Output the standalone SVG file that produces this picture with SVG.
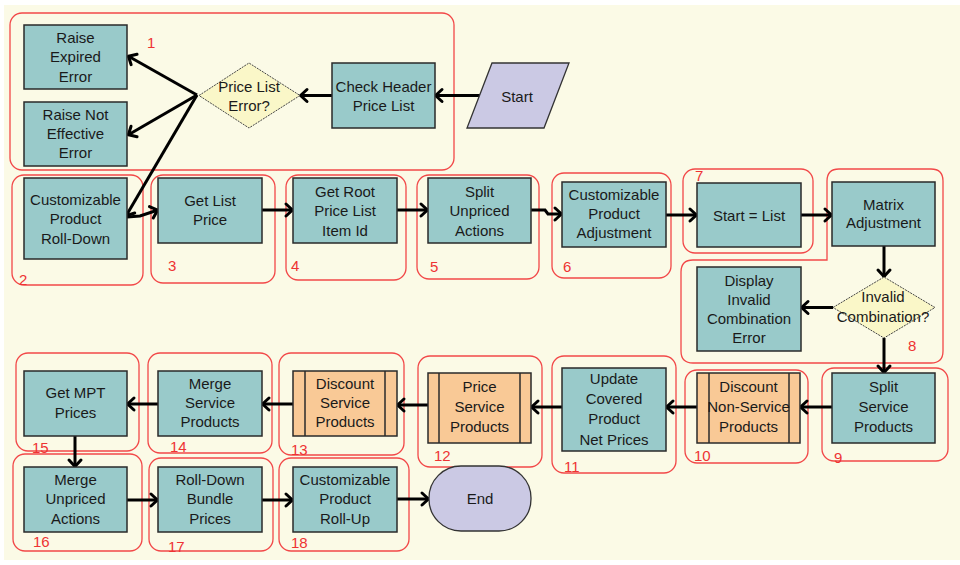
<svg xmlns="http://www.w3.org/2000/svg" width="960" height="565" viewBox="0 0 960 565">
<defs>
<marker id="arr" markerUnits="userSpaceOnUse" markerWidth="20" markerHeight="20" viewBox="-10 -10 20 20" refX="0" refY="0" orient="auto">
<path d="M-7,-6 L-0.5,0 L-7,6" fill="none" stroke="#000" stroke-width="3" stroke-linejoin="round" stroke-linecap="round"/>
</marker>
</defs>
<style>
.bg{fill:#fbfae6}
.grp{fill:none;stroke:#f24848;stroke-width:1.3}
.num{font-family:"Liberation Sans",Arial,sans-serif;font-size:15px;fill:#ee3333}
.task{fill:#99caca;stroke:#2a2a2a;stroke-width:1.5}
.sub{fill:#f9c996;stroke:#2a2a2a;stroke-width:1.5}
.dec{fill:#faf7c8;stroke:#444;stroke-width:1;stroke-dasharray:2,1}
.term{fill:#cbc9e4;stroke:#333;stroke-width:1.3}
.t{font-family:"Liberation Sans",Arial,sans-serif;font-size:15px;fill:#1a1a1a;text-anchor:middle}
.c{fill:none;stroke:#000;stroke-width:3;marker-end:url(#arr)}
</style>
<rect x="4" y="5" width="956" height="555" class="bg"/>

<g id="groups">
<rect class="grp" x="10" y="13" width="444" height="157" rx="12"/>
<rect class="grp" x="12" y="175" width="131" height="110" rx="12"/>
<rect class="grp" x="151" y="175" width="124" height="108" rx="12"/>
<rect class="grp" x="286" y="175" width="120" height="105" rx="12"/>
<rect class="grp" x="417" y="175" width="122" height="104" rx="12"/>
<rect class="grp" x="552" y="173" width="119" height="105" rx="12"/>
<rect class="grp" x="683" y="169" width="130" height="84" rx="12"/>
<path class="grp" d="M839,169 H931 Q943,169 943,181 V351 Q943,363 931,363 H693 Q681,363 681,351 V272 Q681,260 693,260 H827 V181 Q827,169 839,169 Z"/>
<rect class="grp" x="822" y="368" width="126" height="93" rx="12"/>
<rect class="grp" x="685" y="370" width="123" height="93" rx="12"/>
<rect class="grp" x="552" y="356" width="124" height="117" rx="12"/>
<rect class="grp" x="418" y="356" width="124" height="111" rx="12"/>
<rect class="grp" x="279" y="353" width="125" height="102" rx="12"/>
<rect class="grp" x="148" y="353" width="124" height="100" rx="12"/>
<rect class="grp" x="16" y="353" width="123" height="98" rx="12"/>
<rect class="grp" x="13" y="454" width="129" height="97" rx="12"/>
<rect class="grp" x="149" y="458" width="124" height="93" rx="12"/>
<rect class="grp" x="279" y="458" width="130" height="93" rx="12"/>
<text class="num" x="147" y="48">1</text>
<text class="num" x="19" y="285">2</text>
<text class="num" x="168" y="271">3</text>
<text class="num" x="291" y="271">4</text>
<text class="num" x="430" y="272">5</text>
<text class="num" x="563" y="272">6</text>
<text class="num" x="695" y="181">7</text>
<text class="num" x="908" y="351">8</text>
<text class="num" x="834" y="463">9</text>
<text class="num" x="694" y="461">10</text>
<text class="num" x="564" y="472">11</text>
<text class="num" x="434" y="461">12</text>
<text class="num" x="291" y="455">13</text>
<text class="num" x="170" y="452">14</text>
<text class="num" x="32" y="453">15</text>
<text class="num" x="33" y="547">16</text>
<text class="num" x="168" y="552">17</text>
<text class="num" x="291" y="548">18</text>
</g>

<g id="connectors">
<line class="c" x1="480" y1="95.5" x2="435" y2="95.5"/>
<line class="c" x1="332" y1="95.5" x2="300" y2="95.5"/>
<line class="c" x1="197" y1="95" x2="128" y2="56"/>
<line class="c" x1="197" y1="95" x2="128" y2="135"/>
<line class="c" x1="197" y1="95" x2="126" y2="216"/>
<polyline class="c" points="127,217 140,216 158,210"/>
<line class="c" x1="262" y1="210" x2="293" y2="210"/>
<line class="c" x1="397" y1="210" x2="428" y2="210"/>
<polyline class="c" points="531,210 545,210 548,214 562,214"/>
<line class="c" x1="666" y1="215" x2="697" y2="215"/>
<line class="c" x1="801" y1="215" x2="832" y2="215"/>
<line class="c" x1="884" y1="246" x2="884" y2="277"/>
<line class="c" x1="833" y1="307.5" x2="801" y2="307.5"/>
<line class="c" x1="884" y1="338" x2="884" y2="373"/>
<line class="c" x1="832" y1="407" x2="800" y2="407"/>
<line class="c" x1="697" y1="407" x2="666" y2="407"/>
<line class="c" x1="562" y1="407" x2="531" y2="407"/>
<line class="c" x1="428" y1="405" x2="397" y2="405"/>
<line class="c" x1="293" y1="404" x2="262" y2="404"/>
<line class="c" x1="158" y1="404" x2="127" y2="404"/>
<line class="c" x1="75" y1="436" x2="75" y2="467"/>
<line class="c" x1="127" y1="500" x2="158" y2="500"/>
<line class="c" x1="262" y1="500" x2="293" y2="500"/>
<line class="c" x1="397" y1="499" x2="429" y2="499"/>
</g>

<g id="raise-expired-error">
<rect class="task" x="24" y="25" width="103" height="64"/>
<text class="t"><tspan x="75.5" y="43">Raise</tspan><tspan x="75.5" y="62">Expired</tspan><tspan x="75.5" y="82">Error</tspan></text>
</g>
<g id="raise-not-effective-error">
<rect class="task" x="24" y="102" width="103" height="64"/>
<text class="t"><tspan x="75.5" y="120">Raise Not</tspan><tspan x="75.5" y="139">Effective</tspan><tspan x="75.5" y="158">Error</tspan></text>
</g>
<g id="price-list-error">
<polygon class="dec" points="199,95.5 249,63 300,95.5 249,128"/>
<text class="t"><tspan x="249" y="92">Price List</tspan><tspan x="249" y="111">Error?</tspan></text>
</g>
<g id="check-header-price-list">
<rect class="task" x="332" y="63" width="103" height="65"/>
<text class="t"><tspan x="383.5" y="92">Check Header</tspan><tspan x="383.5" y="111">Price List</tspan></text>
</g>
<g id="start">
<polygon class="term" points="492,63 569,63 544,128 467,128"/>
<text class="t" x="517" y="102">Start</text>
</g>
<g id="customizable-product-roll-down">
<rect class="task" x="24" y="178" width="103" height="81"/>
<text class="t"><tspan x="75.5" y="205">Customizable</tspan><tspan x="75.5" y="224">Product</tspan><tspan x="75.5" y="244">Roll-Down</tspan></text>
</g>
<g id="get-list-price">
<rect class="task" x="158" y="178" width="104" height="65"/>
<text class="t"><tspan x="210" y="206">Get List</tspan><tspan x="210" y="225">Price</tspan></text>
</g>
<g id="get-root-price-list-item-id">
<rect class="task" x="293" y="178" width="104" height="65"/>
<text class="t"><tspan x="345" y="197">Get Root</tspan><tspan x="345" y="216">Price List</tspan><tspan x="345" y="236">Item Id</tspan></text>
</g>
<g id="split-unpriced-actions">
<rect class="task" x="428" y="178" width="103" height="65"/>
<text class="t"><tspan x="479.5" y="197">Split</tspan><tspan x="479.5" y="216">Unpriced</tspan><tspan x="479.5" y="236">Actions</tspan></text>
</g>
<g id="customizable-product-adjustment">
<rect class="task" x="562" y="182" width="104" height="65"/>
<text class="t"><tspan x="614" y="200">Customizable</tspan><tspan x="614" y="219">Product</tspan><tspan x="614" y="238">Adjustment</tspan></text>
</g>
<g id="start-list">
<rect class="task" x="697" y="183" width="104" height="64"/>
<text class="t" x="749" y="221">Start = List</text>
</g>
<g id="matrix-adjustment">
<rect class="task" x="832" y="182" width="103" height="64"/>
<text class="t"><tspan x="883.5" y="210">Matrix</tspan><tspan x="883.5" y="228">Adjustment</tspan></text>
</g>
<g id="invalid-combination">
<polygon class="dec" points="833,307.5 884,277 935,307.5 884,338"/>
<text class="t"><tspan x="883" y="302">Invalid</tspan><tspan x="883" y="322">Combination?</tspan></text>
</g>
<g id="display-invalid-combination-error">
<rect class="task" x="697" y="267" width="104" height="84"/>
<text class="t"><tspan x="749" y="286">Display</tspan><tspan x="749" y="305">Invalid</tspan><tspan x="749" y="324">Combination</tspan><tspan x="749" y="343">Error</tspan></text>
</g>
<g id="split-service-products">
<rect class="task" x="832" y="373" width="103" height="70"/>
<text class="t"><tspan x="883.5" y="392">Split</tspan><tspan x="883.5" y="412">Service</tspan><tspan x="883.5" y="432">Products</tspan></text>
</g>
<g id="discount-non-service-products">
<rect class="sub" x="697" y="373" width="103" height="70"/>
<line x1="709" y1="373" x2="709" y2="443" stroke="#2a2a2a" stroke-width="1.5"/>
<line x1="789" y1="373" x2="789" y2="443" stroke="#2a2a2a" stroke-width="1.5"/>
<text class="t"><tspan x="748.5" y="392">Discount</tspan><tspan x="748.5" y="412">Non-Service</tspan><tspan x="748.5" y="432">Products</tspan></text>
</g>
<g id="update-covered-product-net-prices">
<rect class="task" x="562" y="368" width="104" height="83"/>
<text class="t"><tspan x="614" y="384">Update</tspan><tspan x="614" y="404">Covered</tspan><tspan x="614" y="424">Product</tspan><tspan x="614" y="445">Net Prices</tspan></text>
</g>
<g id="price-service-products">
<rect class="sub" x="428" y="373" width="103" height="70"/>
<line x1="439" y1="373" x2="439" y2="443" stroke="#2a2a2a" stroke-width="1.5"/>
<line x1="520" y1="373" x2="520" y2="443" stroke="#2a2a2a" stroke-width="1.5"/>
<text class="t"><tspan x="479.5" y="392">Price</tspan><tspan x="479.5" y="412">Service</tspan><tspan x="479.5" y="432">Products</tspan></text>
</g>
<g id="discount-service-products">
<rect class="sub" x="293" y="371" width="104" height="65"/>
<line x1="305" y1="371" x2="305" y2="436" stroke="#2a2a2a" stroke-width="1.5"/>
<line x1="385" y1="371" x2="385" y2="436" stroke="#2a2a2a" stroke-width="1.5"/>
<text class="t"><tspan x="345" y="389">Discount</tspan><tspan x="345" y="408">Service</tspan><tspan x="345" y="427">Products</tspan></text>
</g>
<g id="merge-service-products">
<rect class="task" x="158" y="371" width="104" height="65"/>
<text class="t"><tspan x="210" y="389">Merge</tspan><tspan x="210" y="408">Service</tspan><tspan x="210" y="427">Products</tspan></text>
</g>
<g id="get-mpt-prices">
<rect class="task" x="24" y="371" width="103" height="65"/>
<text class="t"><tspan x="75.5" y="398">Get MPT</tspan><tspan x="75.5" y="418">Prices</tspan></text>
</g>
<g id="merge-unpriced-actions">
<rect class="task" x="24" y="467" width="103" height="65"/>
<text class="t"><tspan x="75.5" y="485">Merge</tspan><tspan x="75.5" y="504">Unpriced</tspan><tspan x="75.5" y="524">Actions</tspan></text>
</g>
<g id="roll-down-bundle-prices">
<rect class="task" x="158" y="467" width="104" height="65"/>
<text class="t"><tspan x="210" y="485">Roll-Down</tspan><tspan x="210" y="504">Bundle</tspan><tspan x="210" y="524">Prices</tspan></text>
</g>
<g id="customizable-product-roll-up">
<rect class="task" x="293" y="467" width="104" height="65"/>
<text class="t"><tspan x="345" y="485">Customizable</tspan><tspan x="345" y="504">Product</tspan><tspan x="345" y="524">Roll-Up</tspan></text>
</g>
<g id="end">
<rect class="term" x="429" y="466" width="102" height="65" rx="32" ry="32"/>
<text class="t" x="480" y="504">End</text>
</g>
</svg>
